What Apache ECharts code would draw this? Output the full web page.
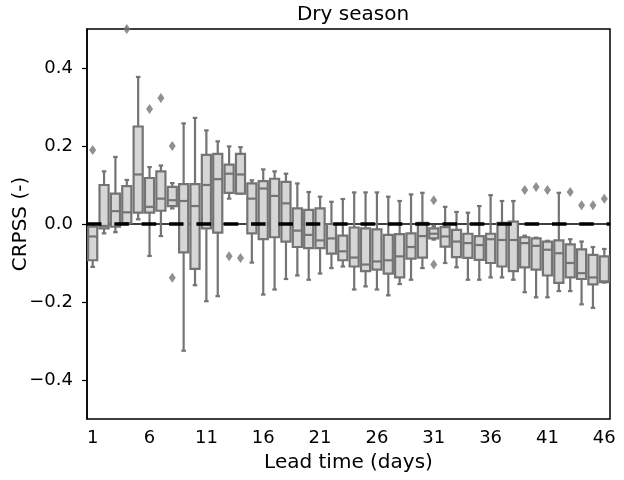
<!DOCTYPE html>
<html>
<head>
<meta charset="utf-8">
<script src="https://cdn.jsdelivr.net/npm/echarts@6/dist/echarts.min.js"></script>
<style>
  html, body { margin: 0; padding: 0; background: #fff; }
  #main { width: 624px; height: 480px; }
</style>
</head>
<body>
<div id="main"></div>
<script>
// lead time in days (categories)
const lead = [];
for (let d = 1; d <= 46; d++) lead.push(String(d));

// box statistics, one value per lead day
const whiskerLow = [-0.110, -0.024, -0.021, 0.000, 0.012, -0.082, -0.031, 0.040, -0.325, -0.157,
  -0.198, -0.185, 0.065, 0.078, -0.099, -0.181, -0.168, -0.141, -0.132, -0.143,
  -0.127, -0.113, -0.109, -0.168, -0.160, -0.168, -0.183, -0.154, -0.143, -0.113,
  -0.040, -0.100, -0.111, -0.143, -0.143, -0.137, -0.137, -0.143, -0.175, -0.188,
  -0.188, -0.172, -0.172, -0.206, -0.215, -0.150];
const q1 = [-0.093, -0.011, -0.007, 0.002, 0.029, 0.029, 0.034, 0.046, -0.073, -0.115,
  -0.011, -0.022, 0.080, 0.078, -0.024, -0.039, -0.034, -0.045, -0.059, -0.062,
  -0.062, -0.076, -0.093, -0.109, -0.121, -0.117, -0.127, -0.137, -0.089, -0.086,
  -0.037, -0.058, -0.085, -0.087, -0.092, -0.100, -0.109, -0.121, -0.111, -0.117,
  -0.132, -0.151, -0.137, -0.141, -0.155, -0.149];
const median = [-0.032, -0.005, 0.033, 0.030, 0.127, 0.044, 0.065, 0.061, 0.059, 0.046,
  0.100, 0.115, 0.129, 0.127, 0.065, 0.091, 0.072, 0.053, -0.017, -0.028,
  -0.042, -0.037, -0.070, -0.086, -0.104, -0.096, -0.093, -0.083, -0.059, -0.031,
  -0.025, -0.032, -0.045, -0.049, -0.054, -0.039, -0.041, -0.041, -0.049, -0.056,
  -0.066, -0.075, -0.100, -0.126, -0.137, -0.147];
const q3 = [-0.007, 0.100, 0.078, 0.097, 0.250, 0.118, 0.135, 0.095, 0.102, 0.102,
  0.177, 0.180, 0.152, 0.180, 0.104, 0.110, 0.116, 0.108, 0.040, 0.036,
  0.040, 0.000, -0.030, -0.009, -0.011, -0.014, -0.028, -0.026, -0.024, 0.003,
  -0.011, -0.008, -0.015, -0.025, -0.031, -0.025, 0.003, 0.006, -0.034, -0.037,
  -0.045, -0.042, -0.052, -0.065, -0.079, -0.083];
const whiskerHigh = [0.000, 0.135, 0.172, 0.113, 0.377, 0.146, 0.150, 0.105, 0.258, 0.272,
  0.240, 0.212, 0.199, 0.197, 0.112, 0.140, 0.135, 0.129, 0.104, 0.082,
  0.070, 0.057, 0.064, 0.081, 0.081, 0.081, 0.070, 0.059, 0.076, 0.080,
  -0.005, 0.044, 0.031, 0.029, 0.046, 0.074, 0.059, 0.059, -0.030, -0.035,
  -0.043, 0.080, -0.039, -0.045, -0.059, -0.064];

// outliers: lead day and value
const outlierLead = [1, 4, 6, 7, 8, 8, 13, 14, 31, 31, 39, 40, 41, 43, 44, 45, 46];
const outlierValue = [0.190, 0.500, 0.295, 0.323, 0.200, -0.138, -0.083, -0.087, 0.061, -0.104,
  0.087, 0.095, 0.087, 0.082, 0.048, 0.048, 0.065];

const yTicks = [-0.4, -0.2, 0.0, 0.2, 0.4];

const boxData = lead.map((d, i) => [i, whiskerLow[i], q1[i], median[i], q3[i], whiskerHigh[i]]);
const outlierData = outlierLead.map((d, i) => [d - 1, outlierValue[i]]);

const font = 'DejaVu Sans';
const lineColor = '#747474';
const fillColor = '#d6d6d6';

const myChart = echarts.init(document.getElementById('main'));

function renderBox(params, api) {
  const x = api.value(0);
  const pLow = api.coord([x, api.value(1)]);
  const pQ1 = api.coord([x, api.value(2)]);
  const pMed = api.coord([x, api.value(3)]);
  const pQ3 = api.coord([x, api.value(4)]);
  const pHigh = api.coord([x, api.value(5)]);
  const band = api.size([1, 0])[0];
  const w = band * 0.8;
  const cw = w * 0.5;
  const cx = pQ1[0];
  const ls = { stroke: lineColor, lineWidth: 2.2, fill: null };
  return {
    type: 'group',
    children: [
      { type: 'line', shape: { x1: cx, y1: pQ3[1], x2: cx, y2: pHigh[1] }, style: ls },
      { type: 'line', shape: { x1: cx, y1: pQ1[1], x2: cx, y2: pLow[1] }, style: ls },
      { type: 'line', shape: { x1: cx - cw / 2, y1: pHigh[1], x2: cx + cw / 2, y2: pHigh[1] }, style: ls },
      { type: 'line', shape: { x1: cx - cw / 2, y1: pLow[1], x2: cx + cw / 2, y2: pLow[1] }, style: ls },
      { type: 'rect', shape: { x: cx - w / 2, y: pQ3[1], width: w, height: pQ1[1] - pQ3[1] },
        style: { fill: fillColor, stroke: lineColor, lineWidth: 2.2 } },
      { type: 'line', shape: { x1: cx - w / 2, y1: pMed[1], x2: cx + w / 2, y2: pMed[1] }, style: ls }
    ]
  };
}

const option = {
  animation: false,
  title: {
    text: 'Dry season',
    left: 348,
    top: 0,
    textAlign: 'center',
    textStyle: { fontFamily: font, fontSize: 20, fontWeight: 'normal', color: '#000' }
  },
  grid: {
    left: 87,
    right: 14,
    top: 29,
    bottom: 61,
    outerBoundsMode: 'none',
    show: true,
    borderColor: '#000',
    borderWidth: 1.5,
    backgroundColor: 'transparent'
  },
  xAxis: {
    type: 'category',
    data: lead,
    name: 'Lead time (days)',
    nameLocation: 'middle',
    nameGap: 34,
    nameMoveOverlap: false,
    nameTextStyle: { fontFamily: font, fontSize: 20, color: '#000' },
    axisLine: { lineStyle: { color: '#000', width: 1.5 } },
    axisTick: { interval: 4, alignWithLabel: true, length: 5, lineStyle: { color: '#000', width: 1.2 } },
    axisLabel: { interval: 4, margin: 10, fontFamily: font, fontSize: 18, color: '#000' },
    splitLine: { show: false }
  },
  yAxis: {
    type: 'value',
    min: -0.5,
    max: 0.5,
    name: 'CRPSS (-)',
    nameLocation: 'middle',
    nameGap: 56,
    nameMoveOverlap: false,
    nameRotate: 90,
    nameTextStyle: { fontFamily: font, fontSize: 20, color: '#000' },
    axisLine: { show: true, lineStyle: { color: '#000', width: 1.5 } },
    axisTick: { show: true, customValues: yTicks, length: 5, lineStyle: { color: '#000', width: 1.2 } },
    axisLabel: {
      customValues: yTicks,
      margin: 14,
      fontFamily: font,
      fontSize: 18,
      color: '#000',
      formatter: v => (v < 0 ? '\u2212' : '') + Math.abs(v).toFixed(1)
    },
    splitLine: { show: false }
  },
  series: [
    {
      type: 'custom',
      renderItem: renderBox,
      data: boxData,
      encode: { x: 0, y: [1, 2, 3, 4, 5] },
      z: 2
    },
    {
      type: 'scatter',
      data: outlierData,
      symbol: 'diamond',
      symbolSize: [7, 10],
      itemStyle: { color: lineColor },
      z: 3,
      markLine: {
        silent: true,
        symbol: ['none', 'none'],
        label: { show: false },
        lineStyle: { color: '#000', width: 3.5, type: [14.5, 12.85] },
        data: [{ yAxis: 0 }]
      }
    }
  ]
};

myChart.setOption(option);
</script>
</body>
</html>
